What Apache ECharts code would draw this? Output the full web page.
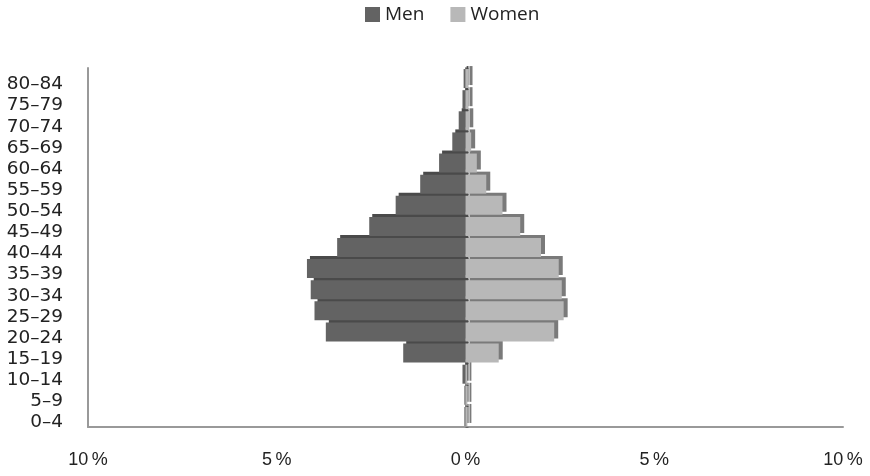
<!DOCTYPE html>
<html><head><meta charset="utf-8">
<script src="https://cdn.jsdelivr.net/npm/echarts@6/dist/echarts.min.js"></script>
<style>html,body{margin:0;padding:0;background:#fff}#c{width:870px;height:476px}</style>
</head><body><div id="c"></div>
<script>
const categories = ['0–4','5–9','10–14','15–19','20–24','25–29','30–34','35–39','40–44','45–49','50–54','55–59','60–64','65–69','70–74','75–79','80–84'];
const men   = [0.03,0.03,0.08,1.65,3.7,4.0,4.1,4.2,3.4,2.55,1.85,1.2,0.7,0.35,0.18,0.08,0.05];
const women = [0.05,0.05,0.05,0.88,2.35,2.6,2.55,2.47,2.0,1.45,0.98,0.55,0.3,0.15,0.1,0.08,0.08];
const xTicks = [-10,-5,0,5,10];

const chart = echarts.init(document.getElementById('c'), null, {renderer:'canvas'});
chart.setOption({
  animation:false,
  legend:{top:0,left:360,icon:'rect',itemWidth:15,itemHeight:15,itemGap:26,
    textStyle:{fontFamily:'Open Sans',fontSize:19,color:'#222'},
    data:['Men','Women']},
  grid:{left:88,right:27,top:68,bottom:49},
  xAxis:{type:'value',min:xTicks[0],max:xTicks[xTicks.length-1],interval:5,
    splitLine:{show:false},
    axisLine:{show:true,onZero:false,lineStyle:{color:'#999',width:2}},
    axisTick:{show:false},
    axisLabel:{margin:24,fontFamily:'Liberation Sans Narrow, Liberation Sans',fontSize:18,color:'#222',
      formatter:v=>Math.abs(v)+'\u2009%'}},
  yAxis:[
    {type:'category',data:categories,position:'left',
      axisLine:{show:true,onZero:false,lineStyle:{color:'#999',width:2}},
      axisTick:{show:false},
      axisLabel:{interval:0,margin:25,color:'#222',
        formatter:v=>'{a|'+v+'}',
        rich:{a:{fontFamily:'DejaVu Sans',fontSize:18.5,color:'#222',padding:[12,0,0,0]}}}},
    {type:'category',data:categories,position:'left',
      axisLine:{show:true,onZero:true,lineStyle:{color:'#8a8a8a',width:2}},
      axisTick:{show:true,inside:true,length:3,lineStyle:{color:'#666'}},
      axisLabel:{show:false}}
  ],
  series:[
    {name:'Men',type:'bar',yAxisIndex:0,barGap:'-100%',barCategoryGap:'10%',
      data:men.map(v=>-v),
      itemStyle:{color:'#636363',shadowColor:'#4a4a4a',shadowOffsetX:3,shadowOffsetY:-3,shadowBlur:0}},
    {name:'Women',type:'bar',yAxisIndex:0,barGap:'-100%',barCategoryGap:'10%',
      data:women,
      itemStyle:{color:'#b8b8b8',shadowColor:'#7a7a7a',shadowOffsetX:4,shadowOffsetY:-3,shadowBlur:0}}
  ]
});
</script></body></html>
